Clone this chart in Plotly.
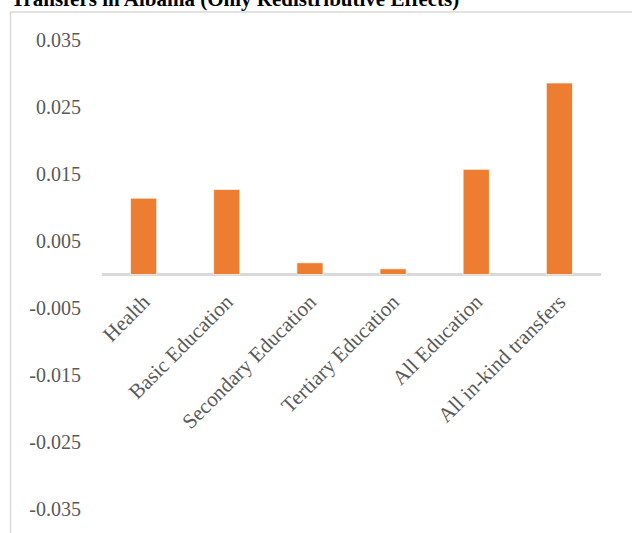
import plotly.graph_objects as go

categories = ["Health", "Basic Education", "Secondary Education", "Tertiary Education",
              "All Education", "All in-kind transfers"]
values = [0.0114, 0.0127, 0.00175, 0.00085, 0.0157, 0.0286]
y_ticks = [0.035, 0.025, 0.015, 0.005, -0.005, -0.015, -0.025, -0.035]
y_tick_text = ["0.035", "0.025", "0.015", "0.005", "-0.005", "-0.015", "-0.025", "-0.035"]
title_text = "Transfers in Albania (Only Redistributive Effects)"

W, H = 632, 533
L, R, T, B = 102, 31, 40, 24
pw = W - L - R
ph = H - T - B

def px_x(x):
    return (x - L) / pw

def px_y(y):
    return (H - B - y) / ph

fig = go.Figure()
fig.add_trace(go.Bar(
    x=categories, y=values,
    marker=dict(color="#ED7D31", line=dict(color="rgba(255,255,255,0.7)", width=1)),
))

font = dict(family="Liberation Serif, Times New Roman, serif", size=20, color="#595959")
xfont = dict(family="Liberation Serif, Times New Roman, serif", size=21, color="#595959")

fig.update_layout(
    width=W, height=H,
    margin=dict(l=L, r=R, t=T, b=B),
    paper_bgcolor="white", plot_bgcolor="white",
    showlegend=False,
    bargap=0.685,
    font=font,
    xaxis=dict(showgrid=False, showline=False, ticks="", tickangle=-45,
               tickfont=xfont, automargin=False, anchor="free", position=0.5,
               ticklabelstandoff=10),
    yaxis=dict(range=[-0.03502, 0.03502], tickvals=y_ticks, ticktext=y_tick_text,
               showgrid=False, showline=False, ticks="", tickfont=font,
               zeroline=True, zerolinecolor="#D9D9D9", zerolinewidth=2.5,
               ticklabelstandoff=20, automargin=False),
    shapes=[
        dict(type="line", xref="paper", yref="paper",
             x0=px_x(10.5), x1=px_x(W + 5), y0=px_y(12), y1=px_y(12),
             line=dict(color="#D9D9D9", width=1.5)),
        dict(type="line", xref="paper", yref="paper",
             x0=px_x(10.5), x1=px_x(10.5), y0=px_y(12), y1=px_y(H + 5),
             line=dict(color="#D9D9D9", width=1.5)),
    ],
    annotations=[
        dict(text="<b>" + title_text + "</b>", xref="paper", yref="paper",
             x=px_x(9), y=px_y(-1), xanchor="left", yanchor="middle",
             showarrow=False,
             font=dict(family="Liberation Serif, Times New Roman, serif", size=21, color="black")),
    ],
)

fig.write_html("out.html", config={"displayModeBar": False},
               post_script="document.body.style.margin='0';document.body.style.overflow='hidden';")
